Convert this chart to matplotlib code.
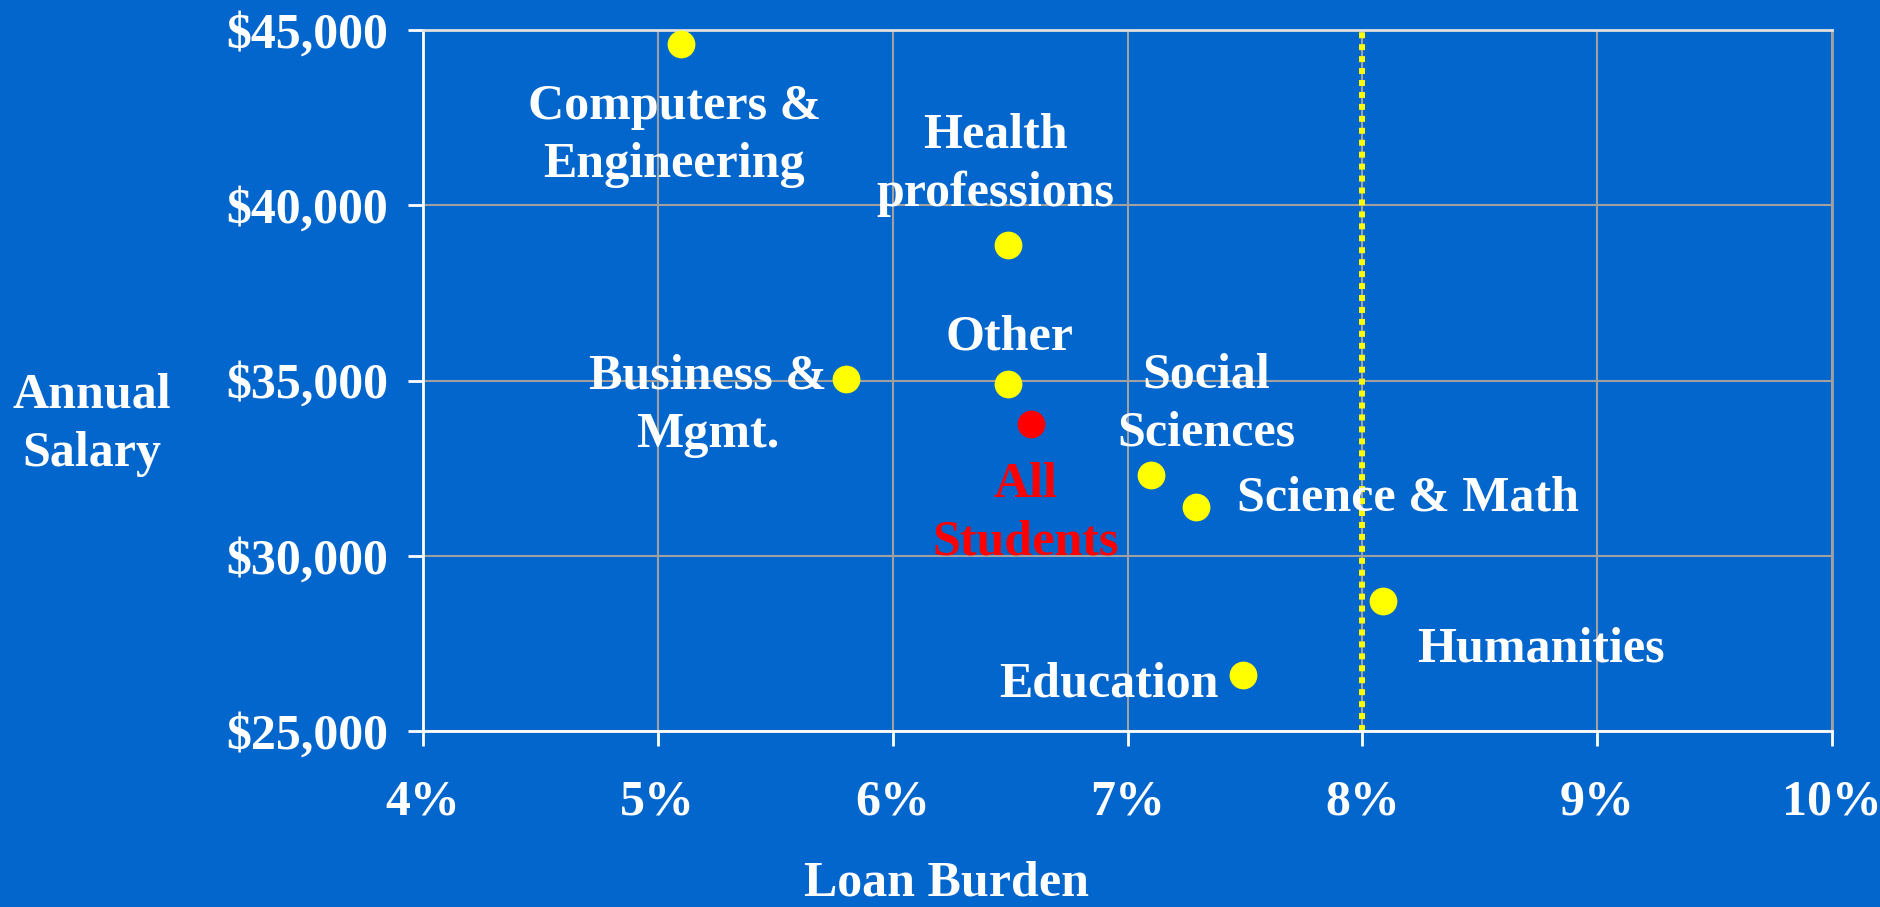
import matplotlib
matplotlib.use('Agg')
import matplotlib.pyplot as plt
from matplotlib.ticker import FuncFormatter

plt.rcParams['font.family'] = ['Liberation Serif', 'DejaVu Serif']
plt.rcParams['font.weight'] = 'bold'

BG = '#0366CD'

majors = ['Computers &\nEngineering', 'Health\nprofessions', 'Business &\nMgmt.', 'Other',
          'Social\nSciences', 'Science & Math', 'Humanities', 'Education']
loan_burden = [5.1, 6.49, 5.8, 6.49, 7.1, 7.29, 8.09, 7.49]
salary = [44600, 38870, 35030, 34900, 32300, 31400, 28700, 26610]

all_label = 'All\nStudents'
all_burden = 6.59
all_salary = 33770

threshold = 8.0

# 标签相对点的偏移（像素）
offsets = [(-7, -92, 'center'), (-12, 80, 'center'), (-138, -26, 'center'), (2, 47, 'center'),
           (55, 71, 'center'), (41, 8, 'left'), (34, -48, 'left'), (-24, -10, 'right')]

fig = plt.figure(figsize=(18.8, 9.07), dpi=100, facecolor=BG)
ax = fig.add_axes([423 / 1880, 0.194, (1832 - 423) / 1880, 0.7729], facecolor=BG)

ax.set_xlim(4, 10)
ax.set_ylim(25000, 45000)
ax.set_xticks(range(4, 11))
ax.set_yticks(range(25000, 45001, 5000))
ax.xaxis.set_major_formatter(FuncFormatter(lambda v, p: f'{v:.0f}%'))
ax.yaxis.set_major_formatter(FuncFormatter(lambda v, p: f'${v:,.0f}'))
ax.grid(True, color='#A0A0A0', linewidth=1.5, zorder=0)
ax.set_axisbelow(True)

ax.tick_params(colors='white', labelsize=36, length=11, width=2, direction='out')
ax.tick_params(axis='x', pad=24)
ax.tick_params(axis='y', pad=14)
for lab in ax.get_xticklabels() + ax.get_yticklabels():
    lab.set_fontweight('bold')

ax.spines['left'].set_color('white')
ax.spines['bottom'].set_color('white')
ax.spines['left'].set_linewidth(2)
ax.spines['bottom'].set_linewidth(2)
ax.spines['top'].set_color('#E0E0E0')
ax.spines['top'].set_linewidth(2)
ax.spines['right'].set_color('#A0A0A0')
ax.spines['right'].set_linewidth(2)

ax.axvline(threshold, color='#FFFF00', linewidth=4.3, linestyle=(0, (1, 1)), zorder=2)

ax.scatter(loan_burden, salary, s=400, color='#FFFF00', zorder=3, linewidths=0)
ax.scatter([all_burden], [all_salary], s=400, color='#FF0000', zorder=3, linewidths=0)

for name, xv, yv, (dx, dy, ha) in zip(majors, loan_burden, salary, offsets):
    ax.annotate(name, (xv, yv), xytext=(dx, dy), textcoords='offset pixels',
                ha=ha, va='center', color='white', fontsize=36, fontweight='bold',
                multialignment='center', linespacing=1.35)
ax.annotate(all_label, (all_burden, all_salary), xytext=(-6, -90), textcoords='offset pixels',
            ha='center', va='center', color='#FF0000', fontsize=36, fontweight='bold',
            multialignment='center', linespacing=1.35)

fig.text(92 / 1880, 1 - 425 / 907, 'Annual\nSalary', ha='center', va='center',
         color='white', fontsize=36, fontweight='bold', multialignment='center',
         linespacing=1.35)
fig.text(947 / 1880, 1 - 884 / 907, 'Loan Burden', ha='center', va='center',
         color='white', fontsize=36, fontweight='bold')

fig.savefig('out.png', dpi=100, facecolor=BG)
